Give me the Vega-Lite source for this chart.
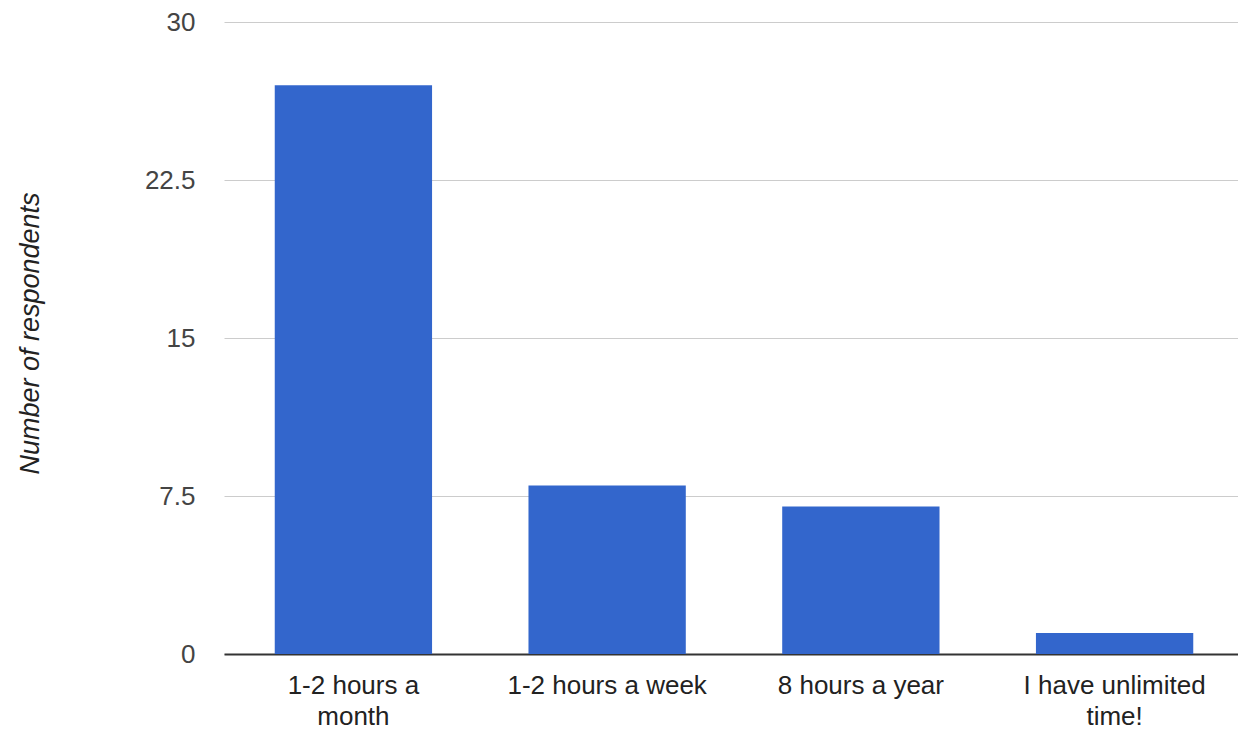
{
  "$schema": "https://vega.github.io/schema/vega-lite/v6.json",
  "width": 1014,
  "height": 632,
  "autosize": {"type": "none"},
  "padding": {"left": 224, "top": 22, "right": 0, "bottom": 84},
  "background": "white",
  "config": {"view": {"stroke": null}, "font": "Liberation Sans"},
  "data": {
    "values": [
      {"category": "1-2 hours a month", "respondents": 27},
      {"category": "1-2 hours a week", "respondents": 8},
      {"category": "8 hours a year", "respondents": 7},
      {"category": "I have unlimited time!", "respondents": 1}
    ]
  },
  "mark": {"type": "bar", "color": "#3366cc"},
  "encoding": {
    "x": {
      "field": "category",
      "type": "nominal",
      "sort": null,
      "scale": {"paddingInner": 0.38, "paddingOuter": 0.2, "range": [0, 1020]},
      "axis": {
        "title": null,
        "labelAngle": 0,
        "ticks": false,
        "domain": true,
        "domainColor": "#333333",
        "domainWidth": 2,
        "labelFont": "Liberation Sans",
        "labelFontSize": 26,
        "labelColor": "#222222",
        "labelPadding": 18,
        "labelLineHeight": 31,
        "labelLimit": 400,
        "labelExpr": "datum.value == '1-2 hours a month' ? ['1-2 hours a', 'month'] : datum.value == 'I have unlimited time!' ? ['I have unlimited', 'time!'] : datum.value"
      }
    },
    "y": {
      "field": "respondents",
      "type": "quantitative",
      "scale": {"domain": [0, 30]},
      "axis": {
        "values": [0, 7.5, 15, 22.5, 30],
        "format": ".1~f",
        "title": "Number of respondents",
        "titleFont": "Liberation Sans",
        "titleFontSize": 27,
        "titleFontStyle": "italic",
        "titleFontWeight": "normal",
        "titleColor": "#222222",
        "titleX": -194,
        "titleY": 311,
        "titleAngle": -90,
        "titleAlign": "center",
        "titleBaseline": "middle",
        "ticks": false,
        "domain": false,
        "grid": true,
        "gridColor": "#cccccc",
        "gridWidth": 1,
        "labelFont": "Liberation Sans",
        "labelFontSize": 26,
        "labelColor": "#444444",
        "labelPadding": 29,
        "labelBaseline": "middle"
      }
    }
  }
}
